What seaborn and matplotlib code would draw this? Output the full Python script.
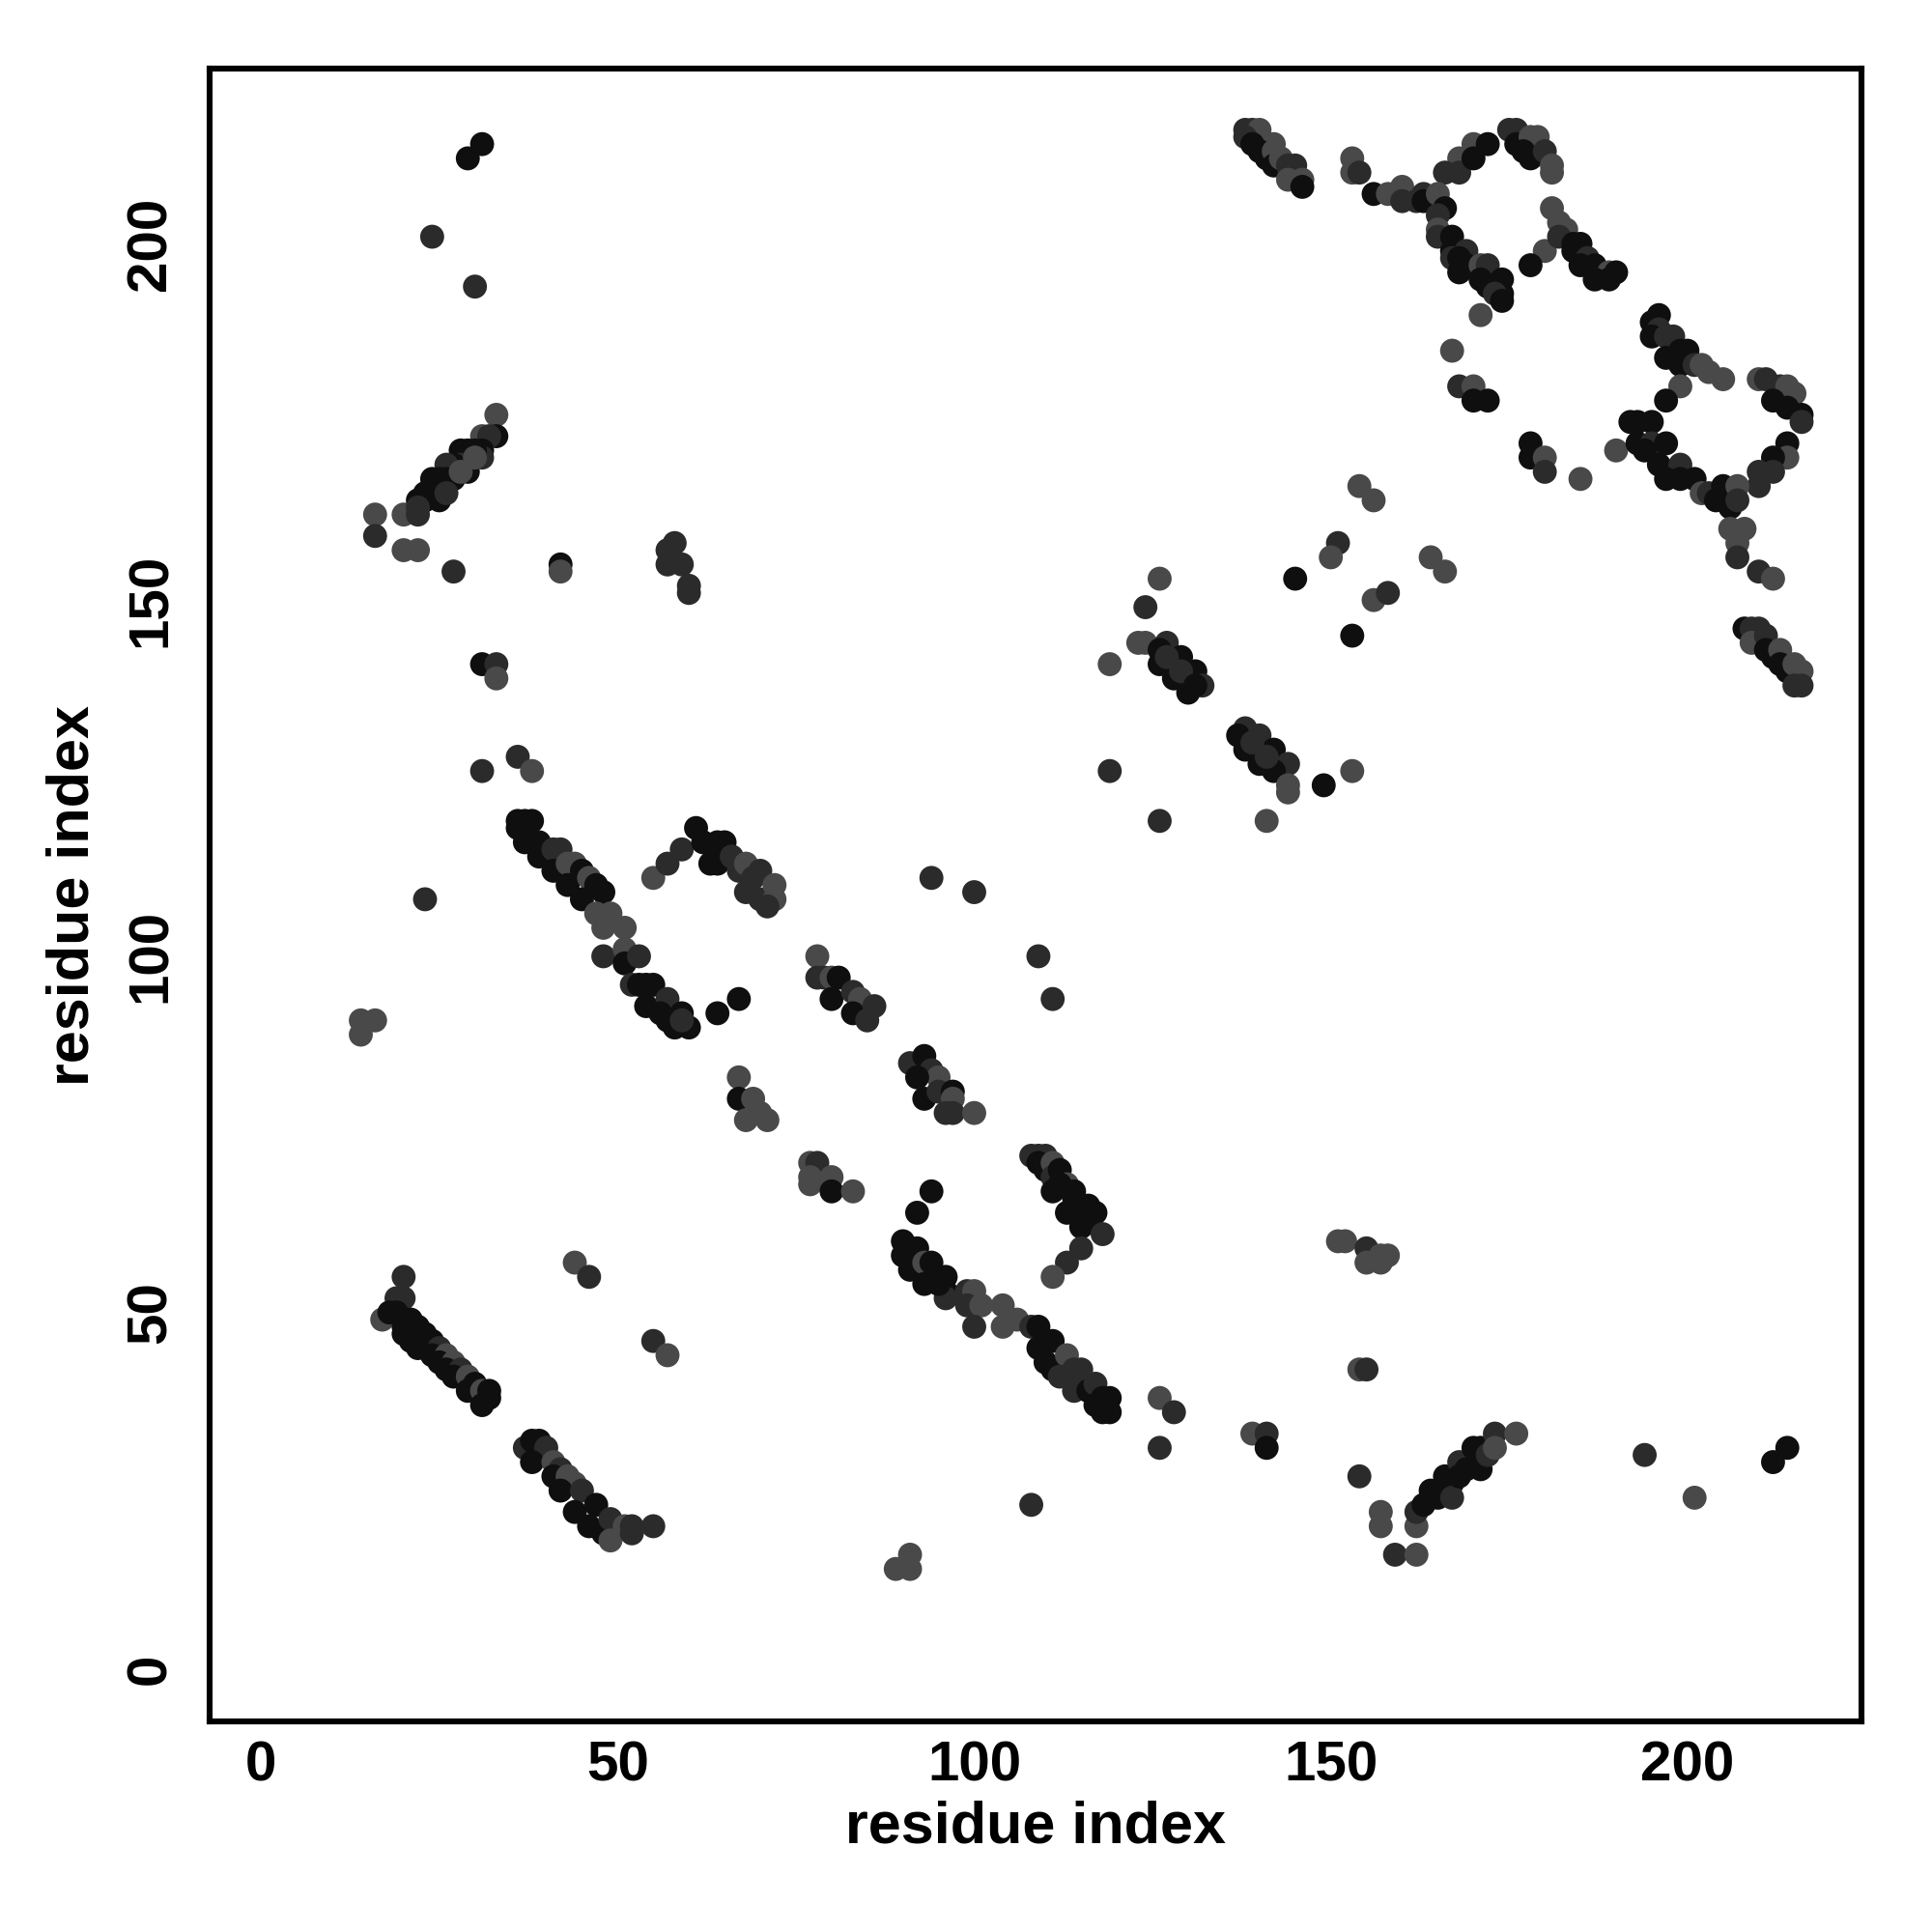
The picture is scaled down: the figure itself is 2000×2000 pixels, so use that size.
import numpy as np
import pandas as pd
import matplotlib
matplotlib.use("Agg")
import matplotlib.pyplot as plt
from matplotlib.colors import LinearSegmentedColormap
import seaborn as sns

# contacts: (residue i, residue j, shade) ; k = black, d = dark, g = grey
top_left = [(31, 214, 'k'), (29, 212, 'k'), (24, 201, 'd'), (30, 194, 'd'),
            (16, 162, 'g'), (16, 159, 'd'), (20, 162, 'g'), (22, 162, 'd'),
            (20, 157, 'g'), (22, 157, 'g'), (27, 154, 'd'), (42, 155, 'k'), (42, 154, 'g')]
strand_22_33 = [(33, 176, 'g'), (33, 173, 'k'), (31, 173, 'g'), (32, 173, 'd'), (31, 171, 'k'),
                (31, 170, 'd'), (30, 171, 'k'), (29, 171, 'k'), (29, 168, 'k'), (28, 171, 'k'),
                (28, 169, 'd'), (27, 169, 'k'), (26, 169, 'd'), (27, 167, 'k'), (26, 167, 'k'),
                (25, 167, 'k'), (24, 167, 'k'), (25, 164, 'k'), (24, 165, 'k'), (23, 165, 'k'),
                (23, 164, 'k'), (22, 164, 'k'), (22, 163, 'd'), (26, 165, 'd'), (28, 168, 'g'),
                (30, 170, 'g')]
cluster_58 = [(58, 158, 'd'), (57, 157, 'd'), (57, 155, 'd'), (59, 155, 'd'), (60, 152, 'd'), (60, 151, 'd')]
strand_138_146 = [(138, 216, 'd'), (139, 216, 'd'), (140, 216, 'g'), (138, 215, 'd'), (142, 214, 'g'),
                  (139, 214, 'k'), (140, 213, 'k'), (141, 212, 'k'), (142, 213, 'g'), (142, 211, 'k'),
                  (143, 212, 'g'), (144, 211, 'd'), (145, 211, 'd'), (144, 209, 'g'), (146, 209, 'g'),
                  (146, 208, 'k')]
upper_right_pts = [(153, 212, 'g'), (153, 210, 'g'), (154, 210, 'd'), (156, 207, 'k'), (158, 207, 'g'),
                   (160, 208, 'g'), (160, 206, 'd'), (162, 206, 'd'),
                   (168, 212, 'g'), (166, 210, 'd'), (168, 210, 'd'), (170, 214, 'g'), (172, 214, 'k'),
                   (170, 212, 'k'), (171, 190, 'g'), (167, 185, 'g'), (168, 180, 'd'), (170, 180, 'g'),
                   (170, 178, 'k'), (172, 178, 'k'), (178, 172, 'k'), (178, 170, 'k'), (180, 170, 'g'),
                   (180, 168, 'd'), (185, 167, 'g'), (190, 171, 'g'), (180, 199, 'g'), (178, 197, 'k')]
strand_163_174 = [(163, 207, 'd'), (163, 206, 'k'), (165, 207, 'g'), (166, 205, 'k'), (165, 204, 'd'),
                  (165, 202, 'g'), (165, 201, 'd'), (167, 201, 'k'), (167, 199, 'k'), (167, 198, 'd'),
                  (169, 199, 'd'), (168, 198, 'k'), (169, 197, 'k'), (168, 196, 'k'), (171, 197, 'g'),
                  (172, 197, 'd'), (171, 195, 'k'), (172, 194, 'k'), (174, 195, 'k'), (174, 193, 'k'),
                  (173, 193, 'd'), (174, 192, 'k')]
strand_175_181 = [(175, 216, 'd'), (176, 216, 'd'), (176, 214, 'k'), (178, 215, 'g'), (179, 215, 'g'),
                  (177, 213, 'k'), (178, 212, 'k'), (180, 213, 'd'), (181, 211, 'g'), (181, 210, 'g')]
strand_181_190 = [(181, 205, 'g'), (182, 203, 'g'), (183, 202, 'g'), (182, 201, 'd'), (184, 200, 'k'),
                  (185, 200, 'k'), (184, 199, 'k'), (186, 198, 'd'), (185, 197, 'k'), (187, 197, 'k'),
                  (189, 196, 'g'), (190, 196, 'k'), (187, 195, 'k'), (189, 195, 'k')]
strand_195_205 = [(196, 190, 'k'), (195, 189, 'k'), (196, 188, 'd'), (195, 187, 'k'), (197, 187, 'd'),
                  (198, 187, 'd'), (199, 185, 'k'), (197, 184, 'k'), (200, 185, 'k'), (199, 183, 'k'),
                  (201, 183, 'd'), (202, 183, 'g'), (203, 182, 'g'), (205, 181, 'g'), (199, 180, 'g'),
                  (197, 178, 'k')]
loop_210_216 = [(210, 181, 'g'), (211, 181, 'd'), (213, 180, 'd'), (214, 180, 'g'), (215, 179, 'g'),
                (212, 178, 'k'), (214, 177, 'k'), (216, 176, 'k'), (216, 175, 'd'), (214, 172, 'k'),
                (214, 170, 'g'), (212, 170, 'k'), (210, 168, 'd'), (212, 168, 'd'), (210, 166, 'd')]
strand_192_208 = [(192, 175, 'k'), (193, 175, 'k'), (195, 175, 'k'), (193, 172, 'k'), (195, 172, 'd'),
                  (197, 172, 'k'), (194, 171, 'k'), (196, 169, 'k'), (199, 169, 'd'), (197, 167, 'k'),
                  (201, 167, 'k'), (199, 167, 'k'), (202, 165, 'g'), (203, 165, 'd'), (205, 166, 'k'),
                  (207, 166, 'g'), (204, 164, 'k'), (206, 163, 'k'), (207, 164, 'd'), (206, 160, 'g'),
                  (208, 160, 'g'), (207, 158, 'g'), (207, 156, 'd'), (210, 154, 'd'), (212, 153, 'g')]
strand_208_216 = [(210, 146, 'd'), (208, 146, 'k'), (209, 146, 'd'), (209, 144, 'g'), (211, 145, 'd'),
                  (211, 143, 'k'), (212, 142, 'k'), (213, 143, 'g'), (213, 141, 'k'), (214, 140, 'k'),
                  (215, 141, 'g'), (216, 140, 'g'), (215, 138, 'd'), (216, 138, 'd')]
mid_right_pts = [(154, 166, 'g'), (156, 164, 'g'), (151, 158, 'd'), (150, 156, 'g'), (145, 153, 'k'),
                 (164, 156, 'g'), (166, 154, 'g'), (156, 150, 'g'), (158, 151, 'd'), (126, 153, 'g'),
                 (124, 149, 'd'), (153, 145, 'k'), (119, 141, 'g'), (123, 144, 'g'), (124, 144, 'g'),
                 (119, 126, 'd'), (126, 119, 'd'), (141, 119, 'g'), (149, 124, 'k'), (153, 126, 'g')]
strand_126_132 = [(127, 144, 'd'), (126, 143, 'k'), (126, 141, 'k'), (129, 142, 'k'), (128, 139, 'k'),
                  (131, 140, 'k'), (130, 137, 'k'), (132, 138, 'd'), (127, 142, 'd'), (129, 140, 'd'),
                  (131, 138, 'k')]
strand_137_144 = [(138, 132, 'd'), (137, 131, 'k'), (140, 131, 'd'), (138, 129, 'k'), (142, 129, 'k'),
                  (140, 127, 'k'), (144, 127, 'd'), (142, 126, 'k'), (144, 124, 'g'), (144, 123, 'g'),
                  (139, 130, 'd'), (141, 128, 'd')]
left_pts = [(31, 141, 'k'), (33, 141, 'd'), (33, 139, 'g'), (36, 128, 'd'), (38, 126, 'g'),
            (31, 126, 'd'), (23, 108, 'd'), (14, 91, 'g'), (16, 91, 'g'), (14, 89, 'g')]
strand_36_52 = [(36, 119, 'k'), (37, 119, 'k'), (38, 119, 'k'), (36, 118, 'k'), (37, 116, 'k'),
                (39, 116, 'k'), (39, 114, 'k'), (41, 115, 'd'), (42, 115, 'd'), (41, 112, 'k'),
                (43, 113, 'g'), (44, 113, 'g'), (43, 110, 'k'), (45, 112, 'k'), (46, 111, 'g'),
                (45, 108, 'k'), (47, 110, 'k'), (48, 109, 'k'), (47, 106, 'g'), (49, 106, 'g'),
                (48, 104, 'g'), (51, 104, 'g'), (48, 100, 'd'), (51, 101, 'g'), (51, 99, 'k'),
                (53, 100, 'd')]
strand_52_60 = [(52, 96, 'd'), (53, 96, 'k'), (54, 96, 'k'), (55, 96, 'k'), (54, 93, 'k'), (57, 94, 'd'),
                (56, 92, 'k'), (59, 92, 'k'), (58, 90, 'k'), (60, 90, 'k'), (57, 91, 'k'), (59, 91, 'd'),
                (64, 92, 'k'), (67, 94, 'k')]
strand_55_72 = [(55, 111, 'g'), (57, 113, 'd'), (59, 115, 'd'), (61, 118, 'k'), (62, 116, 'k'),
                (64, 116, 'k'), (65, 116, 'k'), (63, 113, 'k'), (64, 113, 'k'), (66, 114, 'd'),
                (67, 112, 'd'), (68, 113, 'g'), (69, 111, 'd'), (70, 112, 'd'), (68, 109, 'd'),
                (70, 108, 'd'), (72, 110, 'g'), (72, 108, 'g'), (71, 107, 'd')]
strand_78_86 = [(94, 111, 'd'), (100, 109, 'd'), (78, 100, 'g'), (78, 97, 'd'), (79, 97, 'd'),
                (80, 97, 'g'), (81, 97, 'k'), (80, 94, 'k'), (83, 95, 'd'), (84, 94, 'g'),
                (83, 92, 'k'), (85, 91, 'd'), (86, 93, 'd'), (109, 100, 'd'), (111, 94, 'd')]
strand_91_100 = [(67, 83, 'g'), (67, 80, 'k'), (69, 80, 'g'), (68, 77, 'g'), (70, 78, 'g'), (71, 77, 'g'),
                 (91, 85, 'd'), (93, 86, 'k'), (94, 84, 'd'), (95, 83, 'g'), (92, 83, 'k'), (93, 80, 'k'),
                 (95, 81, 'd'), (97, 81, 'k'), (97, 80, 'g'), (96, 78, 'd'), (97, 78, 'd'), (100, 78, 'g')]
cluster_77_83 = [(77, 71, 'g'), (78, 71, 'd'), (77, 69, 'g'), (77, 68, 'g'), (80, 69, 'g'),
                 (80, 67, 'k'), (83, 67, 'g'), (94, 67, 'k'), (92, 64, 'k')]
strand_90_96 = [(90, 60, 'k'), (91, 59, 'k'), (90, 58, 'k'), (92, 59, 'k'), (91, 56, 'k'), (93, 57, 'g'),
                (94, 57, 'k'), (93, 54, 'k'), (96, 55, 'k'), (96, 53, 'k'), (96, 52, 'd'), (95, 54, 'k'),
                (99, 53, 'd'), (100, 53, 'g'), (99, 51, 'd'), (101, 51, 'g'), (100, 48, 'd'),
                (104, 51, 'g'), (104, 48, 'g'), (106, 49, 'g')]
strand_108_119 = [(108, 48, 'd'), (109, 48, 'k'), (110, 46, 'k'), (109, 45, 'k'), (110, 43, 'k'),
                  (111, 46, 'k'), (111, 42, 'k'), (113, 44, 'g'), (112, 41, 'd'), (114, 42, 'd'),
                  (115, 42, 'd'), (114, 39, 'd'), (116, 39, 'k'), (117, 40, 'd'), (118, 38, 'k'),
                  (119, 38, 'k'), (118, 36, 'k'), (119, 36, 'k'), (117, 37, 'k')]
strand_108_118 = [(108, 72, 'd'), (109, 72, 'd'), (110, 72, 'd'), (109, 71, 'k'), (110, 70, 'k'),
                  (111, 71, 'g'), (111, 69, 'd'), (112, 70, 'k'), (113, 68, 'g'), (111, 67, 'k'),
                  (112, 68, 'k'), (114, 67, 'k'), (113, 64, 'k'), (114, 66, 'k'), (115, 65, 'k'),
                  (116, 65, 'k'), (115, 62, 'k'), (116, 63, 'k'), (117, 64, 'k'), (118, 61, 'd'),
                  (115, 59, 'd'), (113, 57, 'd'), (111, 55, 'g'), (108, 23, 'd'),
                  (89, 14, 'g'), (91, 14, 'g'), (91, 16, 'g')]
strand_18_33 = [(20, 55, 'd'), (19, 52, 'd'), (20, 52, 'd'), (17, 49, 'g'), (18, 50, 'k'), (19, 50, 'k'),
                (21, 49, 'k'), (20, 47, 'k'), (20, 48, 'k'), (22, 48, 'k'), (23, 47, 'k'), (21, 46, 'k'),
                (22, 45, 'k'), (24, 46, 'k'), (25, 45, 'd'), (24, 44, 'k'), (26, 44, 'g'), (25, 43, 'k'),
                (27, 43, 'g'), (26, 42, 'k'), (28, 42, 'd'), (27, 41, 'k'), (29, 41, 'g'), (29, 39, 'k'),
                (30, 40, 'k'), (31, 39, 'g'), (32, 39, 'k'), (31, 37, 'k'), (32, 38, 'k')]
strand_37_52 = [(44, 57, 'g'), (46, 55, 'd'), (37, 31, 'd'), (38, 32, 'k'), (39, 32, 'k'), (40, 31, 'd'),
                (38, 29, 'k'), (41, 29, 'g'), (42, 28, 'd'), (41, 27, 'k'), (43, 27, 'g'), (44, 26, 'g'),
                (42, 25, 'k'), (45, 25, 'd'), (44, 22, 'k'), (47, 23, 'k'), (46, 20, 'k'), (48, 19, 'k'),
                (49, 21, 'd'), (49, 18, 'g'), (51, 20, 'g'), (52, 20, 'd'), (52, 19, 'd'), (55, 20, 'd'),
                (55, 46, 'd'), (57, 44, 'g')]
lower_right_pts = [(126, 38, 'g'), (128, 36, 'd'), (126, 31, 'd'), (139, 33, 'g'), (141, 33, 'd'),
                   (141, 31, 'k'), (151, 60, 'g'), (152, 60, 'g'), (155, 59, 'd'), (155, 57, 'g'),
                   (157, 58, 'g'), (158, 58, 'g'), (157, 57, 'g'), (154, 42, 'g'), (155, 42, 'd'),
                   (154, 27, 'd'), (157, 22, 'g'), (157, 20, 'g'), (159, 16, 'd'), (162, 16, 'g'),
                   (162, 20, 'g'), (194, 30, 'd'), (201, 24, 'g'), (214, 31, 'k'), (212, 29, 'k')]
strand_162_176 = [(162, 22, 'd'), (163, 23, 'k'), (164, 25, 'k'), (165, 24, 'k'), (166, 27, 'k'),
                  (167, 26, 'k'), (167, 24, 'd'), (168, 29, 'd'), (168, 27, 'k'), (169, 28, 'k'),
                  (170, 31, 'k'), (171, 31, 'k'), (171, 28, 'k'), (172, 30, 'd'), (173, 33, 'd'),
                  (173, 31, 'g'), (176, 33, 'g')]

shade_conf = {'k': 0.9, 'd': 0.72, 'g': 0.52}

blocks = [top_left, strand_22_33, cluster_58, strand_138_146, upper_right_pts, strand_163_174,
          strand_175_181, strand_181_190, strand_195_205, loop_210_216, strand_192_208,
          strand_208_216, mid_right_pts, strand_126_132, strand_137_144, left_pts, strand_36_52,
          strand_52_60, strand_55_72, strand_78_86, strand_91_100, cluster_77_83, strand_90_96,
          strand_108_119, strand_108_118, strand_18_33, strand_37_52, lower_right_pts, strand_162_176]
rows = [p for b in blocks for p in b]
df = pd.DataFrame(rows, columns=['i', 'j', 'shade'])
df['conf'] = df['shade'].map(shade_conf)

sns.set_style("white")
plt.rcParams['font.family'] = ['Liberation Sans', 'DejaVu Sans']
plt.rcParams['font.weight'] = 'bold'

fig = plt.figure(figsize=(10, 10), dpi=200)
ax = fig.add_axes([0.1085, 0.109, 0.855, 0.8555])

grey_map = LinearSegmentedColormap.from_list('conf', ['#999999', '#000000'])
sns.scatterplot(data=df, x='i', y='j', hue='conf', palette=grey_map, hue_norm=(0, 1),
                s=80, linewidth=0, legend=False, ax=ax)

ax.set_xlim(-7.2, 224.4)
ax.set_ylim(-7.4, 224.6)
ax.set_xticks([0, 50, 100, 150, 200])
ax.set_yticks([0, 50, 100, 150, 200])
for sp in ax.spines.values():
    sp.set_linewidth(2.2)
    sp.set_color('black')
ax.tick_params(axis='both', direction='out', length=5, width=1.6, color='black',
               labelsize=21, labelcolor='black')
ax.tick_params(axis='x', pad=2)
ax.tick_params(axis='y', pad=7)
for lab in ax.get_yticklabels():
    lab.set_rotation(90)
    lab.set_va('center')
for lab in ax.get_xticklabels() + ax.get_yticklabels():
    lab.set_fontweight('bold')

ax.set_xlabel('residue index', fontsize=22, fontweight='bold', color='black', labelpad=3)
ax.set_ylabel('residue index', fontsize=22, fontweight='bold', color='black', labelpad=9)

fig.savefig('out.png', dpi=200, facecolor='white')
